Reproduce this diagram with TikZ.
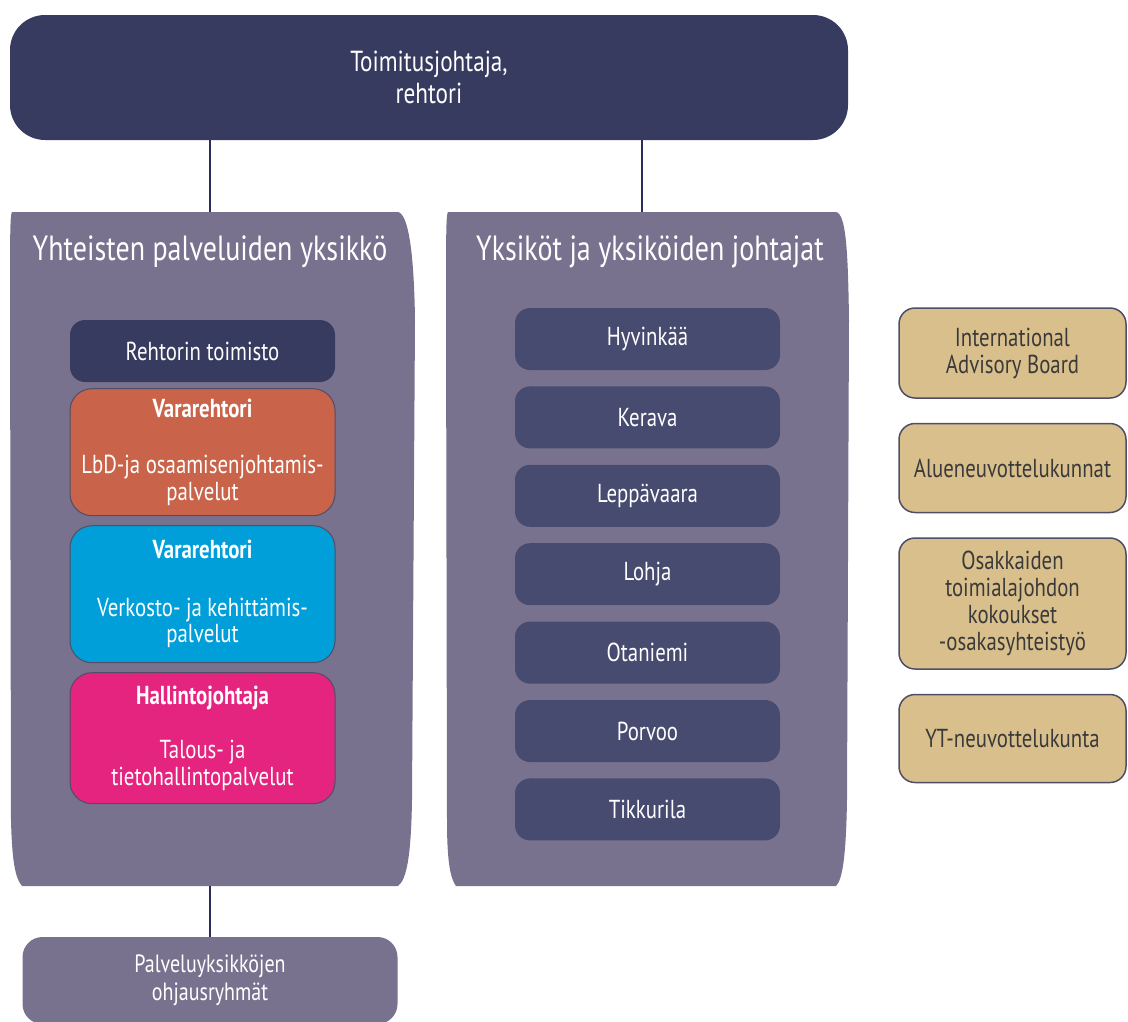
\documentclass[tikz,border=0pt]{standalone}
\usepackage{fontspec}
\setmainfont{PT Sans}[FakeStretch=0.8]
\usetikzlibrary{positioning}

\definecolor{bossnavy}{HTML}{363B5F}
\definecolor{campusnavy}{HTML}{464B6F}
\definecolor{unitgray}{HTML}{78728F}
\definecolor{lbdorange}{HTML}{C9634A}
\definecolor{netblue}{HTML}{009FD9}
\definecolor{adminpink}{HTML}{E4247F}
\definecolor{counciltan}{HTML}{D9BF8C}
\definecolor{edgegray}{HTML}{4E4F66}
\definecolor{linknavy}{HTML}{2A2D5C}
\definecolor{tantext}{HTML}{3A3A3A}

\newcommand{\fsz}[2]{\fontsize{#1}{#2}\selectfont}

\begin{document}
\begin{tikzpicture}[
  x=1pt, y=-1pt,
  node distance=16pt,
  boss/.style={fill=bossnavy, rounded corners=35pt, minimum width=838pt, minimum height=125pt,
    text=white, align=center, font=\fsz{29}{32}},
  unit/.style={minimum width=#1, minimum height=674pt, inner sep=0pt},
  unittitle/.style={text=white, font=\fsz{35}{40}},
  office/.style={fill=bossnavy, rounded corners=15pt, minimum width=265pt, minimum height=62pt,
    text=white, font=\fsz{26}{27}},
  deputy/.style={fill=#1, draw=edgegray, line width=1pt, rounded corners=22pt, minimum width=265pt,
    text=white, align=center, font=\fsz{26}{26.5}},
  campus/.style={fill=campusnavy, rounded corners=15pt, minimum width=265pt, minimum height=62pt,
    text=white, font=\fsz{26}{27}},
  council/.style={fill=counciltan, draw=edgegray, line width=1.5pt, rounded corners=16pt,
    minimum width=227pt, text=tantext, align=center, font=\fsz{26}{27}},
  link/.style={draw=linknavy, line width=2pt}
]
  \path[use as bounding box, clip] (0,0) rectangle (1128,1021);

  % top
  \node[boss] (boss) at (429,77.5) {Toimitusjohtaja,\\rehtori};

  % the two unit columns
  \fill[unitgray] (12,212) -- (398,212) .. controls (408,214) and (414,250) .. (415,320)
    -- (412,800) .. controls (411,860) and (406,880) .. (398,886) -- (22,886)
    .. controls (15,878) and (12,860) .. (11,820) -- (10,300)
    .. controls (10,240) and (10,214) .. (12,212) -- cycle;
  \fill[unitgray] (448,212) -- (836,212) .. controls (846,214) and (848,250) .. (849,320)
    -- (847,800) .. controls (846,860) and (842,880) .. (836,886) -- (456,886)
    .. controls (450,878) and (447,860) .. (447,820) -- (446,300)
    .. controls (446,240) and (446,214) .. (448,212) -- cycle;
  \node[unit=396pt] (yps) at (210,549) {};
  \node[unit=390pt] (yks) at (642,549) {};
  \node[unittitle] (ypsT) at (210,252) {Yhteisten palveluiden yksikkö};
  \node[unittitle] (yksT) at (650,252) {Yksiköt ja yksiköiden johtajat};

  % shared services
  \node[office] (rto) at (202.5,351) {Rehtorin toimisto};
  \node[deputy=lbdorange, minimum height=127pt, below=6pt of rto] (vr1)
    {\textbf{Vararehtori}\\[30pt]LbD-ja osaamisenjohtamis-\\palvelut};
  \node[deputy=netblue, minimum height=137pt, below=9pt of vr1] (vr2)
    {\textbf{Vararehtori}\\[31pt]Verkosto- ja kehittämis-\\palvelut};
  \node[deputy=adminpink, minimum height=131pt, below=9pt of vr2] (hj)
    {\textbf{Hallintojohtaja}\\[28pt]Talous- ja\\tietohallintopalvelut};

  % units
  \node[campus] (hyv) at (647.5,339) {Hyvinkää};
  \node[campus, below=of hyv] (ker) {Kerava};
  \node[campus, below=of ker] (lep) {Leppävaara};
  \node[campus, below=of lep] (loh) {Lohja};
  \node[campus, below=of loh] (ota) {Otaniemi};
  \node[campus, below=of ota] (por) {Porvoo};
  \node[campus, below=of por] (tik) {Tikkurila};

  % councils
  \node[council, minimum height=90pt] (iab) at (1012.5,353) {International\\Advisory Board};
  \node[council, minimum height=89pt, below=24pt of iab] (alue) {Alueneuvottelukunnat};
  \node[council, minimum height=131pt, below=24pt of alue] (osak)
    {Osakkaiden\\toimialajohdon\\kokoukset\\-osakasyhteistyö};
  \node[council, minimum height=88pt, below=24pt of osak] (yt) {YT-neuvottelukunta};

  % steering groups
  \node[fill=unitgray, rounded corners=20pt, minimum width=375pt, minimum height=87pt,
    text=white, align=center, font=\fsz{25}{28}] (pyo) at (210,980.5)
    {Palveluyksikköjen\\ohjausryhmät};

  \draw[link] (boss.south -| yps.north) -- (yps.north);
  \draw[link] (boss.south -| yks.north) -- (yks.north);
  \draw[link] (yps.south) -- (pyo.north);
\end{tikzpicture}
\end{document}
